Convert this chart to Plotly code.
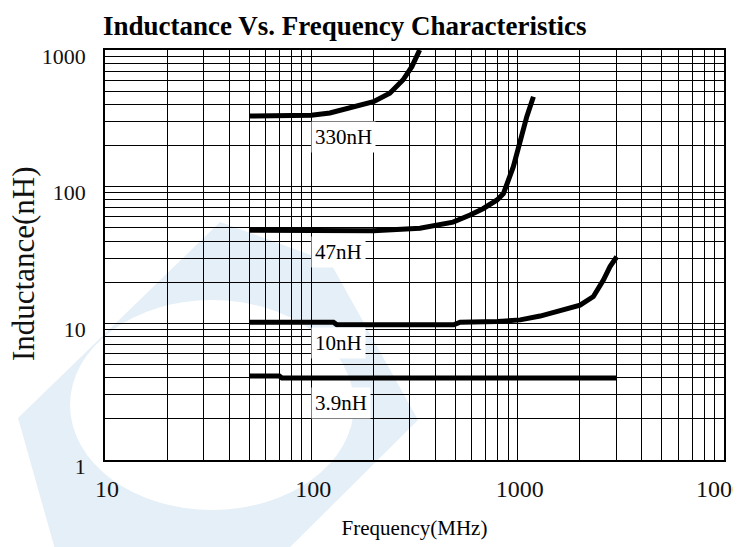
import numpy as np
import plotly.graph_objects as go

# ---------------- data ----------------
title_text = "Inductance Vs. Frequency Characteristics"
x_title = "Frequency(MHz)"
y_title = "Inductance(nH)"

freq_330 = [50, 70, 100, 123, 150, 200, 240, 278, 307, 335]
ind_330 = [329, 330, 333, 346, 375, 419, 482, 603, 755, 1000]

freq_47 = [50, 100, 200, 336, 486, 588, 679, 795, 853, 953, 1028, 1107, 1192]
ind_47 = [48, 47.5, 47.5, 49.6, 55, 62, 69, 80, 89, 140, 219, 325, 455]

freq_10 = [50, 128, 133, 490, 526, 800, 1028, 1285, 1607, 2006, 2328, 2603, 2803, 3021]
ind_10 = [10.2, 10.2, 9.75, 9.75, 10.2, 10.3, 10.6, 11.3, 12.4, 13.6, 15.7, 20.7, 26, 30.7]

freq_39 = [50, 70, 72, 3000]
ind_39 = [4.12, 4.12, 3.98, 3.98]

series = [(freq_330, ind_330), (freq_47, ind_47), (freq_10, ind_10), (freq_39, ind_39)]

labels = ["330nH", "47nH", "10nH", "3.9nH"]
label_freq = [100, 100, 100, 100]
label_ind = [230, 33.3, 7.2, 2.6]

x_decades = [10, 100, 1000, 10000]
y_decades = [1, 10, 100, 1000]

# ---------------- ticks / grid ----------------
def log_grid(decades):
    vals, txt = [], []
    for d in decades[:-1]:
        for m in range(1, 10):
            vals.append(m * d)
            txt.append(str(d) if m == 1 else "")
    vals.append(decades[-1])
    txt.append(str(decades[-1]))
    return vals, txt

xv, xt = log_grid(x_decades)
yv, yt = log_grid(y_decades)

SERIF = "Liberation Serif, Times New Roman, serif"

fig = go.Figure()
for f, L in series:
    fig.add_trace(go.Scatter(x=f, y=L, mode="lines",
                             line=dict(color="black", width=5),
                             showlegend=False, hoverinfo="skip"))

# ---------------- geometry ----------------
W, H = 741, 547
OFF = 8  # page body margin of the rendered html
L_px, R_px, T_px, B_px = 105 - OFF, 724 - OFF, 50 - OFF, 460 - OFF

def px(xs):  # screen x -> paper
    return (xs - OFF - L_px) / (R_px - L_px)

def py(ys):  # screen y -> paper
    return (B_px - (ys - OFF)) / (B_px - T_px)

# watermark (light blue logo) in paper coordinates
outer = [(220, 222), (330, 262), (418, 420), (270, 567), (60, 567), (18, 418)]
path = "M " + " L ".join(f"{px(a):.4f},{py(b):.4f}" for a, b in outer) + " Z"
shapes = [
    dict(type="path", path=path, xref="paper", yref="paper",
         fillcolor="#e5eff7", line=dict(width=0), layer="below"),
    dict(type="circle", xref="paper", yref="paper",
         x0=px(70), x1=px(354), y0=py(510), y1=py(300),
         fillcolor="white", line=dict(width=0), layer="below"),
]

annotations = []
for lab, f, L in zip(labels, label_freq, label_ind):
    annotations.append(dict(x=np.log10(f), y=np.log10(L), xref="x", yref="y",
                            text=lab, showarrow=False, xanchor="left", yanchor="middle",
                            bgcolor="white", borderpad=3,
                            font=dict(family=SERIF, size=21, color="black")))

# y-axis title (rotated text, slightly below the plot centre as in the original)
annotations.append(dict(x=px(23), y=py(264), xref="paper", yref="paper",
                        text=y_title, textangle=-90, showarrow=False,
                        xanchor="center", yanchor="middle",
                        font=dict(family=SERIF, size=31, color="#111")))

fig.update_layout(
    width=W, height=H,
    margin=dict(l=L_px, r=W - R_px, t=T_px, b=H - B_px, autoexpand=False),
    paper_bgcolor="white", plot_bgcolor="rgba(0,0,0,0)",
    title=dict(text=title_text, x=(103 - OFF) / W, xref="container", xanchor="left",
               y=1 - (26 - OFF) / H, yref="container", yanchor="middle",
               font=dict(family=SERIF, size=27, color="black", weight="bold")),
    shapes=shapes, annotations=annotations,
    xaxis=dict(type="log", range=[np.log10(x_decades[0]), np.log10(x_decades[-1])],
               tickmode="array", tickvals=xv, ticktext=xt, ticks="",
               showgrid=True, gridcolor="black", gridwidth=1,
               showline=True, linecolor="black", linewidth=1.5, mirror=True,
               zeroline=False, ticklabelstandoff=6, ticklabeloverflow="allow",
               ticklabelshift=2,
               tickfont=dict(family=SERIF, size=24, color="#111"),
               title=dict(text=x_title, standoff=20,
                          font=dict(family=SERIF, size=21, color="black"))),
    yaxis=dict(type="log", range=[np.log10(y_decades[0]), np.log10(y_decades[-1])],
               tickmode="array", tickvals=yv, ticktext=yt, ticks="",
               showgrid=True, gridcolor="black", gridwidth=1,
               showline=True, linecolor="black", linewidth=1.5, mirror=True,
               zeroline=False, ticklabelstandoff=13, ticklabeloverflow="allow",
               ticklabelshift=6,
               tickfont=dict(family=SERIF, size=22, color="#111")),
)

fig.write_html("out.html")
